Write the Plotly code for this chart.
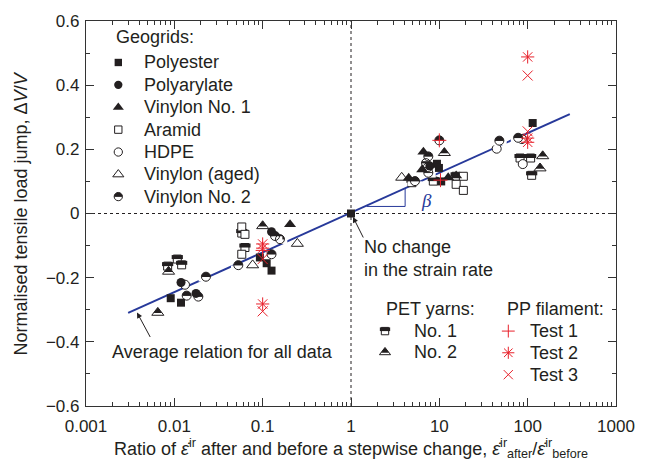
import plotly.graph_objects as go

# ---------------- data ----------------
polyester_x = [0.0091, 0.0119, 0.093, 0.111, 0.126, 1.0, 9.4, 9.9, 10.5, 114]
polyester_y = [-0.264, -0.278, -0.137, -0.155, -0.178, 0.0, 0.155, 0.142, 0.100, 0.282]
polyarylate_x = [0.0119, 0.0176, 0.126, 7.8]
polyarylate_y = [-0.215, -0.249, -0.057, 0.148]
vinylon1_x = [0.204, 6.6, 6.4, 4.5, 12.6, 15.5]
vinylon1_y = [-0.034, 0.192, 0.137, 0.111, 0.112, 0.118]
aramid_x = [0.058, 0.063, 0.058, 18.7, 15.5, 18.7]
aramid_y = [-0.042, -0.065, -0.127, 0.116, 0.091, 0.072]
hdpe_x = [0.0132, 44.6, 86, 88]
hdpe_y = [-0.222, 0.202, 0.232, 0.154]
aged_x = [0.077, 0.247, 3.75]
aged_y = [-0.161, -0.094, 0.112]
vinylon2_x = [0.0138, 0.0187, 0.0228, 0.053, 0.126, 0.138, 0.157, 5.3, 7.06, 7.4, 7.5, 7.5, 10.0, 47.8, 78]
vinylon2_y = [-0.256, -0.259, -0.197, -0.161, -0.127, -0.070, -0.080, 0.101, 0.157, 0.144, 0.127, 0.178, 0.228, 0.227, 0.236]
pet1_x = [0.0084, 0.0108, 0.0121, 0.058, 0.063, 4.9, 8.55, 15.5, 82, 108, 111]
pet1_y = [-0.164, -0.142, -0.160, -0.061, -0.106, 0.096, 0.101, 0.116, 0.173, 0.173, 0.119]
pet2_x = [0.0065, 0.0086, 0.10, 11.4, 148, 138]
pet2_y = [-0.309, -0.181, -0.039, 0.189, 0.179, 0.141]
pp1_x = [0.1, 10.0, 10.3]
pp1_y = [-0.115, 0.228, 0.104]
pp2_x = [0.1, 0.1, 0.1, 100, 100, 100]
pp2_y = [-0.095, -0.108, -0.282, 0.488, 0.235, 0.222]
pp3_x = [0.1, 0.1, 100, 100]
pp3_y = [-0.142, -0.305, 0.430, 0.256]

avg_x = [0.003, 300]
avg_y = [-0.31, 0.31]
beta_x = [1.5, 4.1, 4.1]
beta_y = [0.022, 0.022, 0.077]
hline_x = [0.001, 1000]
hline_y = [0, 0]
vline_x = [1, 1]
vline_y = [-0.6, 0.6]

x_tickvals = [0.001, 0.01, 0.1, 1, 10, 100, 1000]
x_ticktext = ["0.001", "0.01", "0.1", "1", "10", "100", "1000"]
y_tickvals = [-0.6, -0.4, -0.2, 0, 0.2, 0.4, 0.6]
y_ticktext = ["\u22120.6", "\u22120.4", "\u22120.2", "0", "0.2", "0.4", "0.6"]

geogrid_names = ["Polyester", "Polyarylate", "Vinylon No. 1", "Aramid", "HDPE",
                 "Vinylon (aged)", "Vinylon No. 2"]
pet_names = ["No. 1", "No. 2"]
pp_names = ["Test 1", "Test 2", "Test 3"]

# ---------------- layout constants ----------------
W, H = 651, 468
ML, MR, MT, MB = 86, 35, 19, 62
PW = W - ML - MR
PH = H - MT - MB
Y0, Y1 = -0.6, 0.6
PX_PER_Y = PH / (Y1 - Y0)

INK = "#231f20"
RED = "#e8212b"
BLUE = "#27399a"
FONT = "Liberation Sans, Arial, sans-serif"
FS = 18

fig = go.Figure()


def up(px, legend):
    return -px if legend else px / PX_PER_Y


def sc(x, y, legend, symbol, size, color, lw=1.0, lc=INK, dy_px=0.0):
    ys = [v + up(dy_px, legend) for v in y]
    fig.add_trace(go.Scatter(
        x=x, y=ys, mode="markers",
        xaxis="x2" if legend else "x", yaxis="y2" if legend else "y",
        marker=dict(symbol=symbol, size=size, color=color,
                    line=dict(width=lw, color=lc)),
        showlegend=False, hoverinfo="skip", cliponaxis=False))


def draw(kind, x, y, legend=False):
    k = 0.92 if legend else 1.0
    if kind == "polyester":
        sc(x, y, legend, "square", 8 * k, INK, 0)
    elif kind == "polyarylate":
        sc(x, y, legend, "circle", 9 * k, INK, 0)
    elif kind == "vinylon1":
        sc(x, y, legend, "triangle-up", 10.5 * k, INK, 0)
    elif kind == "aramid":
        sc(x, y, legend, "square", 8 * k, "white", 1)
    elif kind == "hdpe":
        sc(x, y, legend, "circle", 9 * k, "white", 1)
    elif kind == "aged":
        sc(x, y, legend, "triangle-up", 10.5 * k, "white", 1)
    elif kind == "vinylon2":
        s = 9 * k
        sc(x, y, legend, "circle", s, INK, 0)
        sc(x, y, legend, "line-ew", s + 1.5, "white", s / 2, "white", -s / 4 - 0.3)
        sc(x, y, legend, "circle-open", s, INK, 1, INK)
    elif kind == "pet1":
        s = 8 * k
        sc(x, y, legend, "square", s, "white", 1)
        sc(x, y, legend, "line-ew", s, INK, s / 2, INK, s / 4)
    elif kind == "pet2":
        s = 10.5 * k
        sc(x, y, legend, "triangle-up", s, "white", 1)
        sc(x, y, legend, "triangle-up", 0.72 * s, INK, 0, INK, 0.14 * s)
    elif kind == "pp1":
        sc(x, y, legend, "cross-thin-open", 10 * k, RED, 1, RED)
    elif kind == "pp2":
        sc(x, y, legend, "asterisk-open", 11 * k, RED, 1, RED)
    elif kind == "pp3":
        sc(x, y, legend, "x-thin-open", 10 * k, RED, 1, RED)


# reference lines
fig.add_trace(go.Scatter(x=vline_x, y=vline_y, mode="lines", line=dict(color=INK, width=1, dash="dot"),
                         showlegend=False, hoverinfo="skip"))
fig.add_trace(go.Scatter(x=hline_x, y=hline_y, mode="lines", line=dict(color=INK, width=1, dash="dot"),
                         showlegend=False, hoverinfo="skip"))
# average relation
fig.add_trace(go.Scatter(x=avg_x, y=avg_y, mode="lines", line=dict(color=BLUE, width=2),
                         showlegend=False, hoverinfo="skip"))
fig.add_trace(go.Scatter(x=beta_x, y=beta_y, mode="lines", line=dict(color=BLUE, width=1),
                         showlegend=False, hoverinfo="skip"))

series = [("pet1", pet1_x, pet1_y), ("pet2", pet2_x, pet2_y),
          ("aramid", aramid_x, aramid_y), ("hdpe", hdpe_x, hdpe_y), ("aged", aged_x, aged_y),
          ("vinylon2", vinylon2_x, vinylon2_y),
          ("polyester", polyester_x, polyester_y), ("polyarylate", polyarylate_x, polyarylate_y),
          ("vinylon1", vinylon1_x, vinylon1_y),
          ("pp1", pp1_x, pp1_y), ("pp2", pp2_x, pp2_y), ("pp3", pp3_x, pp3_y)]
for kind, xs, ys in series:
    draw(kind, xs, ys)

# ---------------- custom legends (pixel space of plot area) ----------------
annotations = []


def text(px, py, s, size=FS, color=INK, anchor="left", family=FONT):
    annotations.append(dict(x=px, y=py, xref="x2", yref="y2", text=s, showarrow=False,
                            xanchor=anchor, yanchor="middle",
                            font=dict(size=size, color=color, family=family)))


geo_kinds = ["polyester", "polyarylate", "vinylon1", "aramid", "hdpe", "aged", "vinylon2"]
geo_rows = [41.7, 64.2, 86.7, 109.2, 131.7, 154.2, 176.5]
text(28, 16, "Geogrids:")
for kind, name, ry in zip(geo_kinds, geogrid_names, geo_rows):
    draw(kind, [32.3], [ry], legend=True)
    text(55.7, ry, name)

pet_rows = [311.7, 333.0]
text(298, 289, "PET yarns:")
for kind, name, ry in zip(["pet1", "pet2"], pet_names, pet_rows):
    draw(kind, [299], [ry], legend=True)
    text(325.7, ry, name)

pp_rows = [311.7, 333.5, 355.5]
text(419, 289, "PP filament:")
for kind, name, ry in zip(["pp1", "pp2", "pp3"], pp_names, pp_rows):
    draw(kind, [422.3], [ry], legend=True)
    text(442.3, ry, name)

# callouts
text(24, 333, "Average relation for all data")
text(276, 227, "No change")
text(276, 250, "in the strain rate")
text(333, 180, "<i>\u03b2</i>", size=19, color=BLUE, family="Liberation Serif, serif")

annotations.append(dict(x=51, y=293, xref="x2", yref="y2", ax=14, ay=26, text="",
                        showarrow=True, arrowhead=2, arrowsize=1.1, arrowwidth=1, arrowcolor=INK))
annotations.append(dict(x=267, y=197, xref="x2", yref="y2", ax=11, ay=22, text="",
                        showarrow=True, arrowhead=2, arrowsize=1.1, arrowwidth=1, arrowcolor=INK))

# axis titles
annotations.append(dict(
    x=0.5 + (351 - ML - PW / 2) / PW, y=(MT + PH - 449) / PH, xref="paper", yref="paper",
    text="Ratio of <i>\u03b5\u0307</i><sup>ir</sup> after and before a stepwise change, "
         "<i>\u03b5\u0307</i><sup>ir</sup><sub>after</sub>/<i>\u03b5\u0307</i><sup>ir</sup><sub>before</sub>",
    showarrow=False, xanchor="center", yanchor="middle", font=dict(size=18, color=INK, family=FONT)))
annotations.append(dict(
    x=(20 - ML) / PW, y=0.5, xref="paper", yref="paper", textangle=-90,
    text="Normalised tensile load jump, \u0394<i>V</i>/<i>V</i>",
    showarrow=False, xanchor="center", yanchor="middle", font=dict(size=18, color=INK, family=FONT)))

minor_x = [m * 10.0 ** e for e in range(-3, 3) for m in range(2, 10)]

axis_common = dict(showgrid=False, zeroline=False, showline=True, linecolor="#333333", linewidth=1.3,
                   mirror="allticks", ticks="inside", ticklen=8, tickwidth=1, tickcolor="#333333",
                   tickfont=dict(size=17, color=INK, family=FONT))

fig.update_layout(
    width=W, height=H, margin=dict(l=ML, r=MR, t=MT, b=MB, pad=0),
    paper_bgcolor="white", plot_bgcolor="white",
    xaxis=dict(type="log", range=[-3, 3], tickmode="array", tickvals=x_tickvals, ticktext=x_ticktext,
               minor=dict(tickmode="array", tickvals=minor_x, ticks="inside", ticklen=4, tickcolor="#333333"),
               ticklabelstandoff=4, **axis_common),
    yaxis=dict(range=[Y0, Y1], tickmode="array", tickvals=y_tickvals, ticktext=y_ticktext,
               minor=dict(dtick=0.1, ticks="inside", ticklen=4, tickcolor="#333333"),
               ticklabelstandoff=2, **axis_common),
    xaxis2=dict(overlaying="x", range=[0, PW], visible=False, anchor="y2", fixedrange=True),
    yaxis2=dict(overlaying="y", range=[PH, 0], visible=False, anchor="x2", fixedrange=True),
    annotations=annotations,
    showlegend=False,
)

fig.write_html("out.html")
